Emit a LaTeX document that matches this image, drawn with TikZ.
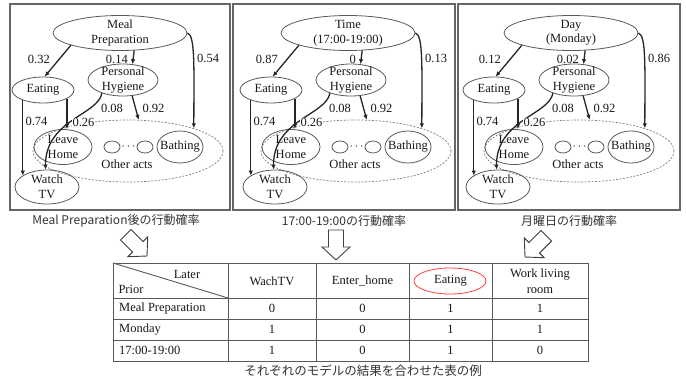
\documentclass[tikz,border=0pt]{standalone}
\usepackage{fontspec}
\setmainfont{Liberation Serif}
\newfontfamily\jpfont{Noto Sans CJK JP}
\usetikzlibrary{shapes.geometric,arrows.meta,calc}
\newcommand\drawpanel[6]{%
\begin{scope}[shift={(#1,0)}]
 \node[ell,minimum width=134,minimum height=35] (top#2) at (120,33) {#3};
 \node[ell,minimum width=62,minimum height=26] (eat#2) at (43,90) {Eating};
 \node[ell,minimum width=70,minimum height=32] (ph#2) at (123,80) {Personal\\Hygiene};
 \node[dashell,minimum width=190,minimum height=62] (oth#2) at (128,151) {};
 \node[ell,minimum width=58,minimum height=35] (lh#2) at (63,147) {Leave\\Home};
 \node[ell,minimum width=16,minimum height=12] (ca#2) at (112,147) {};
 \node[ell,minimum width=16,minimum height=12] (cb#2) at (145,147) {};
 \node[lbl] (dots#2) at (128.5,147) {$\cdots$};
 \node[ell,minimum width=46,minimum height=32] (bath#2) at (180,147) {Bathing};
 \node[lbl] (otxt#2) at (127,164) {Other acts};
 \node[ell,minimum width=64,minimum height=34] (tv#2) at (47,187) {Watch\\TV};
 \draw[arr] (top#2.194) -- (eat#2.83);
 \draw[arr] (top#2.309) -- (ph#2.59);
 \draw[arr] (top#2.east) .. controls ($(top#2.east)+(8,2)$) and ($(oth#2.19)+(0,-60)$) .. (oth#2.19);
 \draw[arr] (eat#2.207) -- (eat#2.207 |- tv#2.155);
 \draw[arr] (eat#2.340) -- (eat#2.340 |- lh#2.north);
 \draw[arr] (ph#2.212) .. controls ($(ph#2.212)+(-4,22)$) and ($(tv#2.95)+(0,-50)$) .. (tv#2.95);
 \draw[arr] (ph#2.300) -- (oth#2.71);
 \node[lbl,anchor=east] (la#2) at (50,59) {#4};
 \node[lbl,anchor=east] (lb#2) at (128,59) {#5};
 \node[lbl,anchor=west] (lc#2) at (197,58) {#6};
 \node[lbl] (ld#2) at (36.5,121) {0.74};
 \node[lbl,fill=white,inner sep=0.5pt] (le#2) at (83.5,122.5) {0.26};
 \node[lbl] (lf#2) at (112,108) {0.08};
 \node[lbl] (lg#2) at (153.5,108) {0.92};
\end{scope}}
\newcommand\blockarrow[3]{\draw[barrow,shift={(#1,#2)},rotate=#3] (0,0) -- (-13,14) -- (-13,7.5) -- (-30,7.5) -- (-30,-7.5) -- (-13,-7.5) -- (-13,-14) -- cycle;}
\begin{document}
\begin{tikzpicture}[x=1pt,y=-1pt,
  ell/.style={ellipse,draw=black!65,line width=0.8pt,inner sep=-5pt,align=center,text=black!90,font=\fontsize{12.5}{14.5}\selectfont},
  dashell/.style={ellipse,draw=black!50,line width=0.7pt,dash pattern=on 2pt off 1.5pt,inner sep=0pt},
  arr/.style={draw=black!85,line width=1.3pt,-{Latex[length=5pt,width=4.5pt]}},
  lbl/.style={font=\fontsize{12.5}{14}\selectfont,text=black!90,inner sep=0pt},
  pframe/.style={draw=black!60,line width=1.2pt},
  jcap/.style={font=\jpfont\fontsize{12}{14}\selectfont,text=black!80,inner sep=0pt},
  cell/.style={font=\fontsize{12.5}{16}\selectfont,text=black!90,inner sep=0pt,align=center},
  tline/.style={draw=black!65,line width=0.9pt},
  barrow/.style={draw=black!75,line width=0.9pt,fill=white},
]
\fill[white] (0,0) rectangle (686,378);
\useasboundingbox (0,0) rectangle (686,378);
% panel frames
\draw[pframe] (10,4) rectangle (230,210);
\draw[pframe] (233,4) rectangle (455,210);
\draw[pframe] (458,4) rectangle (680,210);
\drawpanel{0}{A}{Meal\\Preparation}{0.32}{0.14}{0.54}
\drawpanel{228}{B}{Time\\(17:00-19:00)}{0.87}{0}{0.13}
\drawpanel{451}{C}{Day\\(Monday)}{0.12}{0.02}{0.86}
% captions
\node[jcap] (cap1) at (116,221) {Meal Preparation後の行動確率};
\node[jcap] (cap2) at (344,221) {17:00-19:00の行動確率};
\node[jcap] (cap3) at (569,221) {月曜日の行動確率};
% block arrows
\blockarrow{147}{256}{-45}
\blockarrow{336}{260}{-90}
\blockarrow{525}{257}{-135}
% table
\draw[tline] (113,263) rectangle (588,361);
\draw[tline] (113,298) -- (588,298);
\draw[tline] (113,319) -- (588,319);
\draw[tline] (113,340) -- (588,340);
\foreach \cx in {228,316,409,492} {\draw[tline] (\cx,263) -- (\cx,361);}
\draw[tline] (113,263) -- (228,298);
\node[cell] (later) at (187,274) {Later};
\node[cell] (prior) at (131,289) {Prior};
\node[cell] (h1) at (272,281) {WachTV};
\node[cell] (h2) at (362.5,281) {Enter\_home};
\node[cell] (h3) at (450.5,281) {Eating};
\node[cell] (h4) at (540,281) {Work living\\room};
\draw[red!75,line width=0.8pt] (450,281) ellipse [x radius=36pt, y radius=13pt];
\node[cell,anchor=west] (r1) at (119,308.5) {Meal Preparation};
\node[cell,anchor=west] (r2) at (119,329.5) {Monday};
\node[cell,anchor=west] (r3) at (119,350.5) {17:00-19:00};
\node[cell] (v11) at (272,308.5) {0};
\node[cell] (v12) at (362.5,308.5) {0};
\node[cell] (v13) at (450.5,308.5) {1};
\node[cell] (v14) at (540,308.5) {1};
\node[cell] (v21) at (272,329.5) {1};
\node[cell] (v22) at (362.5,329.5) {0};
\node[cell] (v23) at (450.5,329.5) {1};
\node[cell] (v24) at (540,329.5) {1};
\node[cell] (v31) at (272,350.5) {1};
\node[cell] (v32) at (362.5,350.5) {0};
\node[cell] (v33) at (450.5,350.5) {1};
\node[cell] (v34) at (540,350.5) {0};
\node[jcap,font=\jpfont\fontsize{12.5}{14}\selectfont] (tcap) at (363,371) {それぞれのモデルの結果を合わせた表の例};
\end{tikzpicture}
\end{document}
